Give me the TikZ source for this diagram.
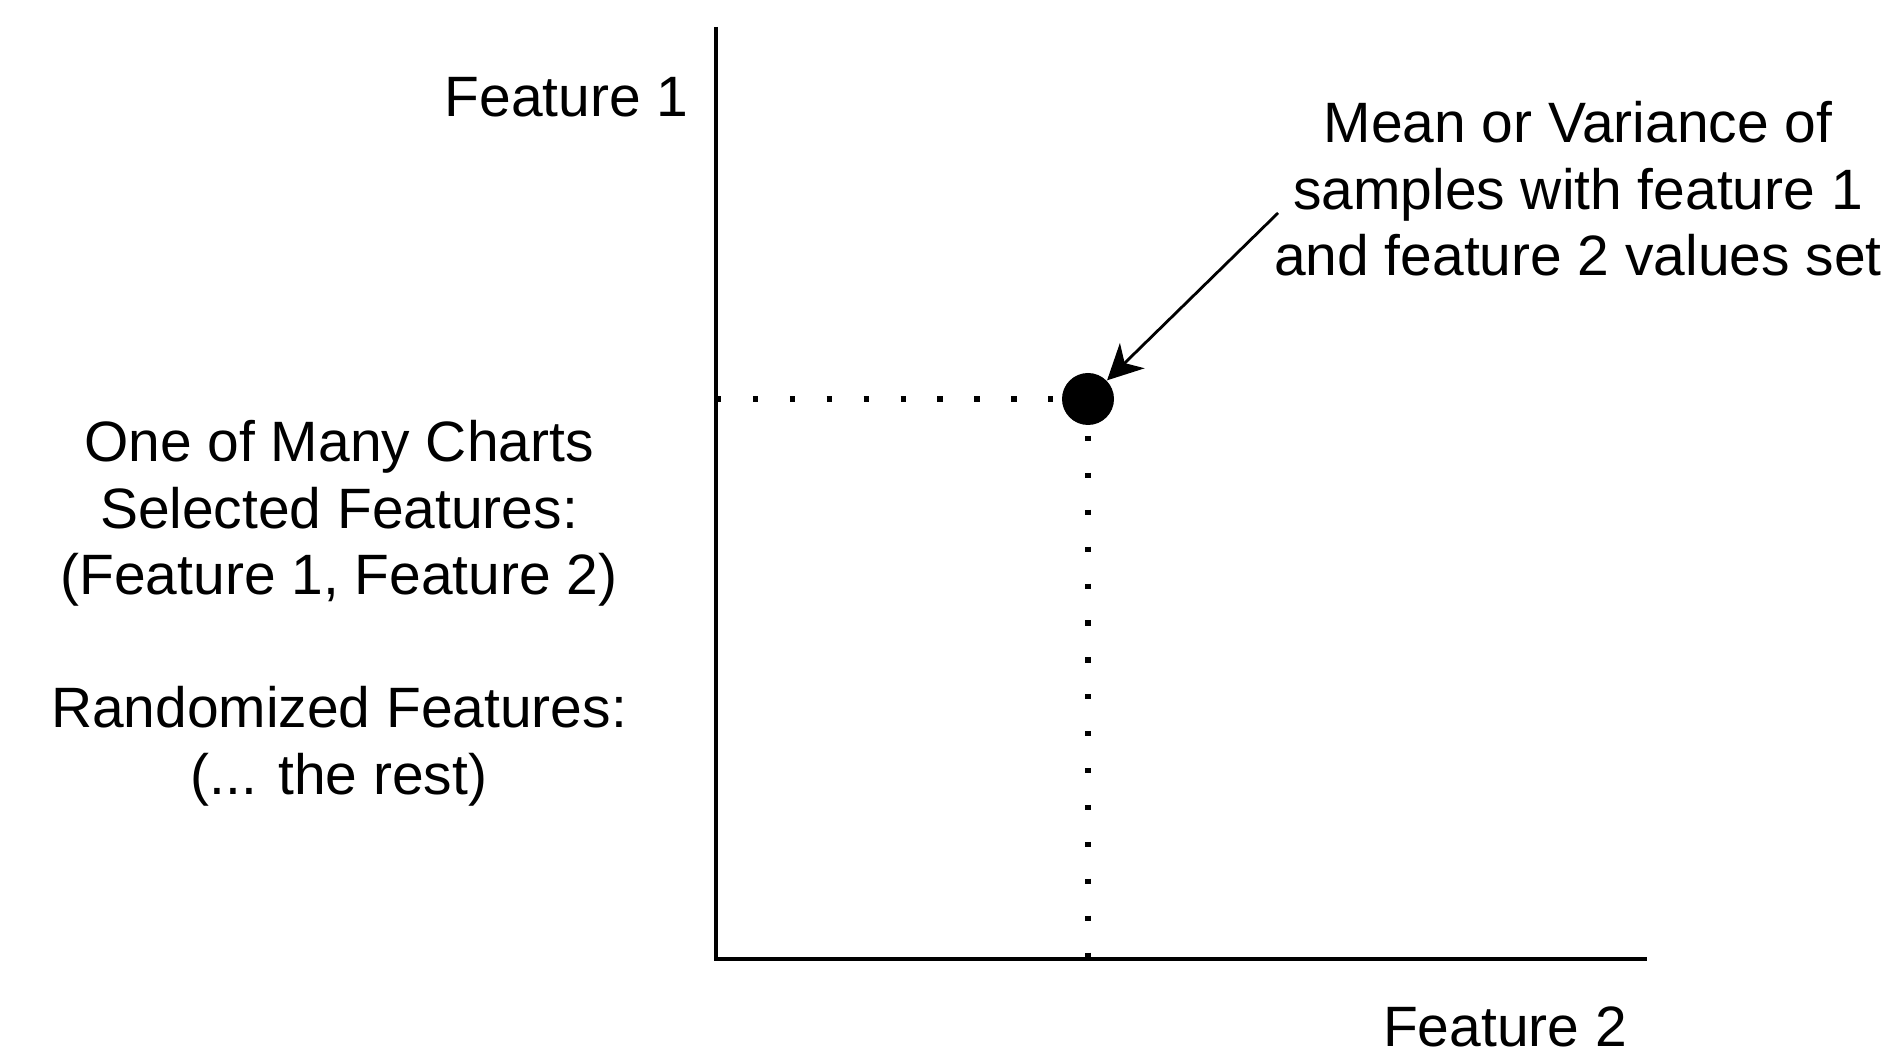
\documentclass[tikz,border=0pt]{standalone}
\usepackage{fontspec}
\setmainfont{Liberation Sans}
\usetikzlibrary{arrows.meta}

\tikzset{
  axis/.style = {line width=1.4pt},
  guide/.style = {line width=1.5pt, dash pattern=on 1.5pt off 9pt},
  pointer/.style = {line width=0.8pt, -{Stealth[length=10pt, width=10pt, inset=3pt]}},
  dotmark/.style = {circle, fill, inner sep=0pt, minimum size=0.52cm},
  caption/.style = {inner sep=0pt, align=center, font=\fontsize{16.2}{18.9}\selectfont}
}

\begin{document}
\begin{tikzpicture}
\useasboundingbox (0,0) rectangle (18.99,10.56);

\coordinate (origin) at (7.16,0.97);
\coordinate (ytop) at (7.16,10.29);
\coordinate (xend) at (16.47,0.97);
\draw [axis] (ytop) -- (origin) -- (xend);

\node [caption, anchor=east] (ylab) at (6.89,9.59) {Feature 1};
\node [caption] (xlab) at (15.05,0.29) {Feature 2};

\node [dotmark] (pt) at (10.88,6.57) {};
\draw [guide] (origin |- pt) -- (pt);
\draw [guide] (pt.center) -- (pt |- origin);

\node [caption, anchor=north] (note) at (15.78,9.55)
  {Mean or Variance of\\samples with feature 1\\and feature 2 values set};
\coordinate (tail) at (12.78,8.43);
\draw [pointer] (tail) -- (pt);

\node [caption, anchor=north] (info) at (3.39,6.36)
  {One of Many Charts\\Selected Features:\\(Feature 1, Feature 2)\\[18.9pt]Randomized Features:\\(... the rest)};
\end{tikzpicture}
\end{document}
